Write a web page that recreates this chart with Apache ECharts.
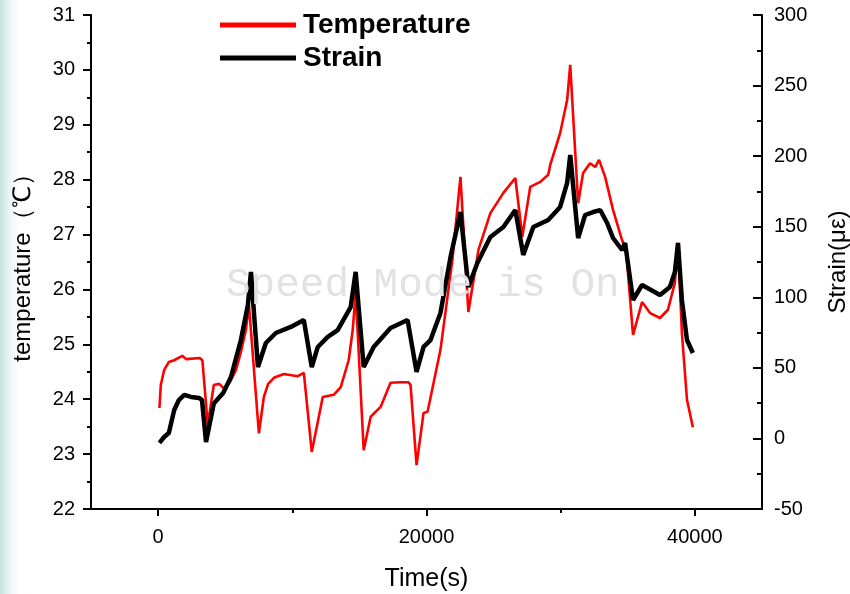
<!DOCTYPE html>
<html>
<head>
<meta charset="utf-8">
<script src="https://cdn.jsdelivr.net/npm/echarts@6/dist/echarts.min.js"></script>
<style>
html,body{margin:0;padding:0;background:#fff;}
#chart{width:850px;height:594px;}
</style>
</head>
<body>
<div id="chart"></div>
<script>
// ---- data ----
var seriesNames = ['Temperature', 'Strain'];
var tempTime = [100,200,450,800,1200,1800,2100,3100,3300,3700,4150,4550,4900,5350,5800,6170,6540,6770,7510,7880,8200,8630,9370,10410,10860,11450,12270,13090,13610,14200,14500,14720,15320,15840,16580,17320,18070,18660,18810,19260,19780,20080,21040,21930,22530,23120,23870,24760,25730,26620,27140,27730,28480,29070,29220,29960,30480,30710,31300,31670,32190,32570,32860,33310,33900,34570,34870,35390,36060,36660,37400,37990,38510,38740,39030,39410,39850];
var tempValues = [23.84,24.26,24.53,24.68,24.71,24.79,24.73,24.75,24.71,23.53,24.26,24.28,24.20,24.31,24.53,24.86,25.26,25.72,23.38,24.04,24.28,24.39,24.46,24.42,24.48,23.04,24.04,24.08,24.22,24.71,25.26,25.94,23.07,23.68,23.86,24.30,24.31,24.31,24.26,22.80,23.75,23.77,24.90,26.54,28.05,25.59,26.72,27.39,27.76,28.03,26.96,27.87,27.96,28.09,28.27,28.85,29.45,30.09,27.57,28.12,28.30,28.23,28.36,28.05,27.45,26.90,26.72,25.17,25.77,25.57,25.48,25.63,26.12,26.85,25.21,23.99,23.49];
var strainTime = [100,450,800,1200,1550,1950,2450,3050,3270,3570,4150,4850,5430,6170,6690,6920,7440,8030,8770,9890,10860,11450,11900,12640,13380,14350,14720,15320,16060,17320,18590,19260,19780,20300,21040,21790,22530,23120,23790,24760,25730,26620,27210,27960,29070,29960,30480,30710,31300,31820,32420,32940,33460,33900,34570,34800,35390,36060,37400,38140,38510,38740,39030,39410,39850];
var strainValues = [-3.2,1.0,3.8,20.1,27.2,30.8,29.4,28.7,27.2,-2.5,24.7,32.2,43.5,69.7,94.5,118.0,50.6,67.6,74.7,79.0,83.9,50.6,64.8,71.9,76.8,93.1,118.0,50.6,64.8,78.2,83.9,47.1,64.8,69.7,88.9,128.5,160.4,107.3,124.3,142.7,149.8,161.8,130.0,149.8,154.8,164.0,181.0,200.8,142.0,158.3,160.4,161.8,152.6,142.0,133.5,138.5,98.1,108.7,101.6,107.3,118.0,138.5,98.1,69.7,60.5];
var xMajorTicks = [0, 20000, 40000];
var xMinorTicks = [10000, 30000];
var xTitle = 'Time(s)';
var leftTitle = 'temperature（℃）';
var rightTitle = 'Strain(με)';
var watermark = 'Speed Mode is On';

function pairs(xs, ys){ var o=[]; for (var i=0;i<xs.length;i++) o.push([xs[i], ys[i]]); return o; }
function plain(v){ return String(v); }

var FONT = 'Liberation Sans, Arial, sans-serif';
var chart = echarts.init(document.getElementById('chart'), null, {renderer:'canvas'});
var axisLine = {show:true, onZero:false, lineStyle:{color:'#000', width:2}};
chart.setOption({
  animation:false,
  backgroundColor:'#fff',
  grid:{left:91, right:88, top:15, bottom:85, containLabel:false, outerBoundsMode:'none'},
  legend:{
    data: seriesNames, orient:'vertical', left:220, top:11, padding:0, itemGap:5,
    icon:'rect', itemWidth:76, itemHeight:5,
    textStyle:{fontSize:28, fontWeight:'bold', color:'#000', fontFamily:FONT, padding:[0,0,0,2]}
  },
  xAxis:[{
    type:'value', min:-5000, max:45000, position:'bottom',
    axisLine:axisLine,
    axisTick:{show:true, customValues:xMajorTicks, length:7, lineStyle:{color:'#000', width:2}},
    axisLabel:{customValues:xMajorTicks, formatter:plain, fontSize:20, color:'#000', fontFamily:FONT, margin:18},
    splitLine:{show:false},
    name:xTitle, nameLocation:'middle', nameGap:58,
    nameTextStyle:{fontSize:25, color:'#000', fontFamily:FONT}
  },{
    type:'value', min:-5000, max:45000, position:'bottom',
    axisLine:{show:false, onZero:false},
    axisTick:{show:true, customValues:xMinorTicks, length:4, lineStyle:{color:'#000', width:2}},
    axisLabel:{show:false},
    splitLine:{show:false}
  }],
  yAxis:[{
    type:'value', min:22, max:31, interval:1, position:'left',
    axisLine:axisLine,
    axisTick:{show:true, length:8, lineStyle:{color:'#000', width:2}},
    minorTick:{show:true, splitNumber:2, length:4, lineStyle:{color:'#000', width:2}},
    axisLabel:{fontSize:20, color:'#000', fontFamily:FONT, margin:16},
    splitLine:{show:false},
    name:leftTitle, nameLocation:'middle', nameGap:56, nameRotate:90,
    nameTextStyle:{fontSize:24, color:'#000', fontFamily:FONT}
  },{
    type:'value', min:-50, max:300, interval:50, position:'right',
    axisLine:axisLine,
    axisTick:{show:true, inside:true, length:9, lineStyle:{color:'#000', width:2}},
    minorTick:{show:true, splitNumber:2, length:5, lineStyle:{color:'#000', width:2}},
    axisLabel:{fontSize:20, color:'#000', fontFamily:FONT, margin:12},
    splitLine:{show:false},
    name:rightTitle, nameLocation:'middle', nameGap:64, nameRotate:90,
    nameTextStyle:{fontSize:24, color:'#000', fontFamily:FONT}
  }],
  series:[{
    name:seriesNames[0], type:'line', xAxisIndex:0, yAxisIndex:0, showSymbol:false, symbol:'none',
    data:pairs(tempTime, tempValues), lineStyle:{color:'#ff0000', width:2.6}, itemStyle:{color:'#ff0000'}, z:2
  },{
    name:seriesNames[1], type:'line', xAxisIndex:0, yAxisIndex:1, showSymbol:false, symbol:'none',
    data:pairs(strainTime, strainValues), lineStyle:{color:'#000', width:4.5}, itemStyle:{color:'#000'}, z:3
  }],
  graphic:[{
    type:'rect', left:0, top:0, z:-10, silent:true,
    shape:{width:24, height:594},
    style:{fill:new echarts.graphic.LinearGradient(0,0,1,0,[{offset:0,color:'rgba(190,225,218,0.9)'},{offset:1,color:'rgba(255,255,255,0)'}])}
  },{
    type:'text', left:226, top:265, z:100, silent:true,
    style:{text:watermark, fontSize:41, fontFamily:'Liberation Mono, Courier New, monospace', fill:'#e2e2e2'}
  }]
});
</script>
</body>
</html>
